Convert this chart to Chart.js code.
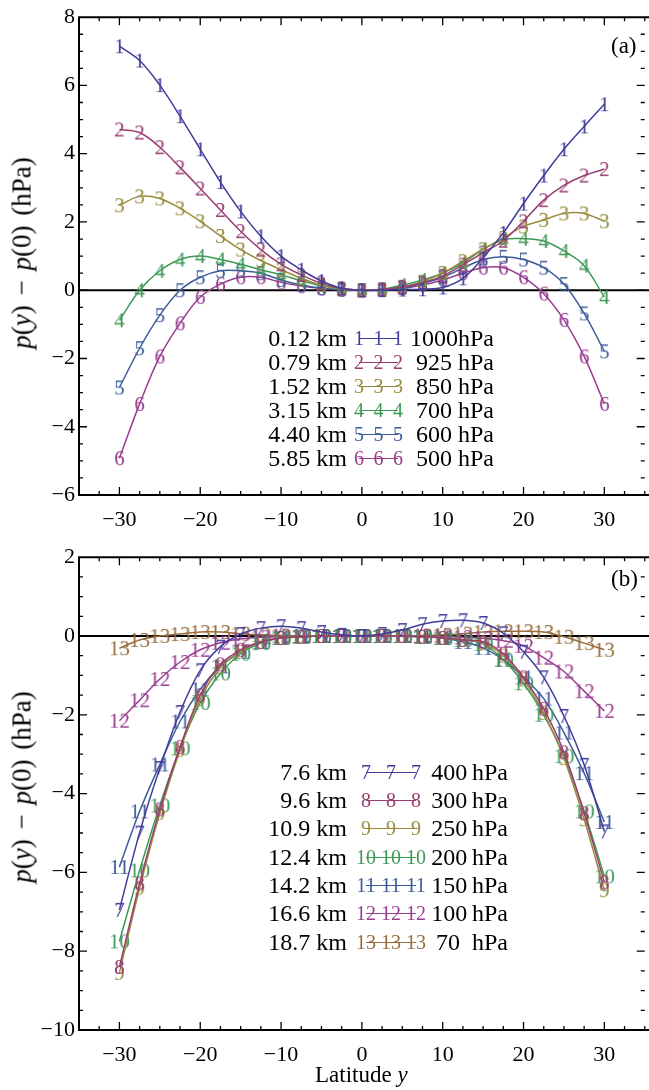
<!DOCTYPE html>
<html>
<head>
<meta charset="UTF-8">
<title>p(y) - p(0)</title>
<script src="https://cdn.jsdelivr.net/npm/chart.js"></script>
<style>
  body { margin: 0; background: #fff; overflow: hidden; font-family: "Liberation Serif", "Times New Roman", serif; }
  #wrap { position: relative; width: 649px; height: 1090px; }
  canvas { position: absolute; left: 0; }
  #c1 { top: 0; }
  #c2 { top: 540px; }
  .txt { position: absolute; color: #000; white-space: nowrap; line-height: 1; }
  .ytitle { font-size: 27px; transform: translate(-50%, -50%) rotate(-90deg); word-spacing: 3px; }
  .panel { font-size: 23px; }
  .leg { font-size: 24px; transform: translateY(-50%); }
  .legR { transform: translate(-100%, -50%); }
  .sample { position: absolute; height: 24px; transform: translateY(-50%); }
  .sample .ln { position: absolute; top: 12px; height: 0; border-top: 1.6px solid; }
  .sample .d { position: absolute; top: 12px; font-size: 20px; transform: translate(-50%, -52%); line-height: 1; }
</style>
</head>
<body>
<div id="wrap">
  <canvas id="c1" width="649" height="540"></canvas>
  <canvas id="c2" width="649" height="550"></canvas>
</div>
<script>
// latitude of each sample
const lat = [-30, -27.5, -25, -22.5, -20, -17.5, -15, -12.5, -10, -7.5, -5, -2.5, 0,
             2.5, 5, 7.5, 10, 12.5, 15, 17.5, 20, 22.5, 25, 27.5, 30];

// panel (a): p(y) - p(0), hPa
const p1000 = [7.15, 6.73, 6.01, 5.1, 4.13, 3.17, 2.31, 1.58, 1.0, 0.6, 0.27, 0.06, 0, 0, 0.02, 0.03, 0.08, 0.35, 0.95, 1.68, 2.54, 3.36, 4.13, 4.8, 5.45];
const p925 = [4.71, 4.62, 4.19, 3.6, 2.98, 2.35, 1.73, 1.19, 0.76, 0.45, 0.2, 0.05, 0, 0.02, 0.1, 0.22, 0.42, 0.75, 1.1, 1.45, 2.02, 2.64, 3.07, 3.36, 3.55];
const p850 = [2.49, 2.75, 2.69, 2.4, 2.02, 1.59, 1.19, 0.87, 0.6, 0.35, 0.15, 0.04, 0, 0.02, 0.1, 0.25, 0.5, 0.85, 1.2, 1.53, 1.87, 2.06, 2.25, 2.25, 2.02];
const p700 = [-0.88, 0.0, 0.57, 0.9, 1.0, 0.9, 0.76, 0.6, 0.45, 0.28, 0.13, 0.04, 0, 0.03, 0.15, 0.3, 0.5, 0.8, 1.2, 1.48, 1.51, 1.44, 1.15, 0.72, -0.2];
const p600 = [-2.85, -1.7, -0.73, 0.0, 0.38, 0.57, 0.57, 0.5, 0.3, 0.15, 0.06, 0.02, 0, 0.02, 0.07, 0.2, 0.38, 0.65, 0.9, 0.98, 0.9, 0.66, 0.18, -0.68, -1.79];
const p500 = [-4.92, -3.33, -1.94, -0.97, -0.2, 0.18, 0.38, 0.38, 0.23, 0.12, 0.05, 0.01, 0, 0.01, 0.05, 0.15, 0.3, 0.5, 0.66, 0.66, 0.38, -0.1, -0.87, -1.94, -3.33];

// panel (b)
const p400 = [-6.95, -4.99, -3.35, -1.93, -0.87, -0.27, 0.05, 0.2, 0.25, 0.2, 0.1, 0.03, 0, 0.05, 0.15, 0.3, 0.38, 0.4, 0.33, 0.07, -0.4, -1.05, -2.03, -3.27, -4.96];
const p300 = [-8.4, -6.28, -4.4, -2.82, -1.5, -0.72, -0.35, -0.15, -0.05, -0.02, 0, 0, 0, 0, 0, -0.02, -0.05, -0.1, -0.15, -0.45, -1.05, -1.85, -2.95, -4.5, -6.25];
const p250 = [-8.55, -6.4, -4.5, -2.9, -1.6, -0.8, -0.4, -0.15, -0.05, -0.01, 0, 0, 0, 0, 0, -0.02, -0.05, -0.1, -0.18, -0.5, -1.1, -1.95, -3.1, -4.65, -6.45];
const p200 = [-7.75, -5.95, -4.3, -2.85, -1.7, -0.95, -0.45, -0.18, -0.05, -0.01, 0, 0, 0, 0, 0, -0.02, -0.05, -0.1, -0.2, -0.6, -1.2, -2.0, -3.05, -4.45, -6.1];
const p150 = [-5.86, -4.45, -3.26, -2.17, -1.35, -0.77, -0.4, -0.15, -0.05, -0.02, 0, 0, 0, 0, 0, -0.02, -0.05, -0.15, -0.3, -0.6, -1.05, -1.59, -2.45, -3.48, -4.72];
const p100 = [-2.15, -1.63, -1.09, -0.66, -0.35, -0.17, -0.07, -0.03, -0.01, 0, 0, 0, 0, 0, 0, 0, -0.01, -0.03, -0.06, -0.12, -0.25, -0.55, -0.9, -1.4, -1.9];
const p70 = [-0.31, -0.1, 0.0, 0.05, 0.1, 0.1, 0.06, 0.03, 0.01, 0, 0, 0, 0, 0, 0, 0.01, 0.03, 0.06, 0.1, 0.12, 0.12, 0.1, -0.02, -0.18, -0.35];

// legend text
const heightsA = ['0.12 km', '0.79 km', '1.52 km', '3.15 km', '4.40 km', '5.85 km'];
const levelsA = ['1000hPa', '925 hPa', '850 hPa', '700 hPa', '600 hPa', '500 hPa'];
const heightsB = ['7.6 km', '9.6 km', '10.9 km', '12.4 km', '14.2 km', '16.6 km', '18.7 km'];
const levelsB = ['400\u2009hPa', '300\u2009hPa', '250\u2009hPa', '200\u2009hPa', '150\u2009hPa', '100\u2009hPa', '70\u2002hPa'];

const seriesA = [p1000, p925, p850, p700, p600, p500];
const seriesB = [p400, p300, p250, p200, p150, p100, p70];
const marksA = ['1', '2', '3', '4', '5', '6'];
const marksB = ['7', '8', '9', '10', '11', '12', '13'];

// mathematica style hues
const colorsA = ['#3f3d99', '#993d71', '#998b3d', '#3d9956', '#3d5a99', '#993d90'];
const colorsB = ['#3f3d99', '#993d71', '#998b3d', '#3d9956', '#3d5a99', '#993d90', '#996d3d'];

const MINUS = '\u2212';
const SERIF = '"Liberation Serif", "Times New Roman", serif';

function glyph(text, color) {
  const c = document.createElement('canvas');
  let ctx = c.getContext('2d');
  const font = '21px ' + SERIF;
  ctx.font = font;
  const w = Math.ceil(ctx.measureText(text).width) + 2;
  c.width = w; c.height = 24;
  ctx = c.getContext('2d');
  ctx.font = font;
  ctx.fillStyle = color;
  ctx.textAlign = 'center';
  ctx.textBaseline = 'middle';
  ctx.fillText(text, w / 2, 13);
  return c;
}

function makeDatasets(series, marks, colors) {
  return series.map((s, i) => ({
    data: lat.map((x, j) => ({ x: x, y: s[j] })),
    borderColor: colors[i],
    borderWidth: 1.5,
    tension: 0.35,
    pointStyle: glyph(marks[i], colors[i]),
    pointRadius: 8,
    fill: false
  }));
}

// frame with inward ticks, like the original
const frame = {
  id: 'frame',
  afterDatasetsDraw(chart) {
    const { ctx, chartArea: a, scales: { x, y } } = chart;
    ctx.save();
    ctx.strokeStyle = '#000';
    ctx.lineWidth = 2;
    ctx.beginPath();
    ctx.moveTo(a.left, a.top); ctx.lineTo(chart.width, a.top);
    ctx.moveTo(a.left, a.top - 1); ctx.lineTo(a.left, a.bottom + 1);
    ctx.moveTo(a.left, a.bottom); ctx.lineTo(chart.width, a.bottom);
    ctx.stroke();
    ctx.lineWidth = 1.3;
    ctx.beginPath();
    const xr = x.getPixelForValue(35);
    for (let v = -35; v <= 35.01; v += 2.5) {
      const px = x.getPixelForValue(v);
      if (px <= a.left + 1 || px > chart.width) continue;
      const len = (Math.abs(v % 10) < 1e-6) ? 8 : 4;
      ctx.moveTo(px, a.bottom); ctx.lineTo(px, a.bottom - len);
      ctx.moveTo(px, a.top); ctx.lineTo(px, a.top + len);
    }
    for (let v = y.min; v <= y.max + 1e-6; v += 0.5) {
      const py = y.getPixelForValue(v);
      if (py <= a.top + 1 || py >= a.bottom - 1) continue;
      const len = (Math.abs(v % 2) < 1e-6) ? 8 : 4;
      ctx.moveTo(a.left, py); ctx.lineTo(a.left + len, py);
      ctx.moveTo(xr, py); ctx.lineTo(xr - len, py);
    }
    ctx.stroke();
    ctx.restore();
  },
  beforeDatasetsDraw(chart) {
    const { ctx, chartArea: a, scales: { y } } = chart;
    const py = y.getPixelForValue(0);
    ctx.save();
    ctx.strokeStyle = '#000';
    ctx.lineWidth = 1.8;
    ctx.beginPath();
    ctx.moveTo(a.left, py); ctx.lineTo(chart.width, py);
    ctx.stroke();
    ctx.restore();
  }
};

function makeChart(id, datasets, ymin, ymax, padTop, xHeight) {
  return new Chart(document.getElementById(id), {
    type: 'line',
    data: { datasets: datasets },
    plugins: [frame],
    options: {
      responsive: false,
      animation: false,
      events: [],
      layout: { padding: { top: padTop, left: 0, right: 0, bottom: 0 } },
      plugins: { legend: { display: false }, tooltip: { enabled: false } },
      scales: {
        x: {
          type: 'linear',
          min: -35, max: 34.35,
          grid: { display: false, drawTicks: false },
          border: { display: false },
          afterFit: s => { s.height = xHeight; },
          ticks: {
            stepSize: 10, includeBounds: false, padding: 12, color: '#000',
            font: { family: SERIF, size: 22 },
            maxRotation: 0,
            callback: v => (v < 0 ? MINUS + Math.abs(v) : String(v))
          }
        },
        y: {
          min: ymin, max: ymax,
          grid: { display: false, drawTicks: false },
          border: { display: false },
          afterFit: s => { s.width = 79; },
          ticks: {
            stepSize: 2, padding: 4, color: '#000',
            font: { family: SERIF, size: 22 },
            callback: v => (v < 0 ? MINUS + Math.abs(v) : String(v))
          }
        }
      }
    }
  });
}

makeChart('c1', makeDatasets(seriesA, marksA, colorsA), -6, 8, 11, 45);
makeChart('c2', makeDatasets(seriesB, marksB, colorsB), -10, 2, 5, 60);

// text overlays
const wrap = document.getElementById('wrap');
function addText(html, cls, left, top) {
  const d = document.createElement('div');
  d.className = 'txt ' + cls;
  d.innerHTML = html;
  d.style.left = left + 'px';
  d.style.top = top + 'px';
  wrap.appendChild(d);
  return d;
}
const ylabel = '<i>p</i>(<i>y</i>) \u2212 <i>p</i>(0) (hPa)';
addText(ylabel, 'ytitle', 22, 253);
addText(ylabel, 'ytitle', 22, 787);
addText('(a)', 'panel', 611, 34);
addText('(b)', 'panel', 611, 567);
addText('Latitude <i>y</i>', 'panel', 315, 1063);

function addLegend(heights, levels, marks, colors, rows, kmRight, c0, c1, pRight) {
  heights.forEach((h, i) => {
    const yc = rows[i];
    addText(h, 'leg legR', kmRight, yc);
    addText(levels[i], 'leg legR', pRight, yc);
    const s = document.createElement('div');
    s.className = 'sample';
    s.style.left = '0px';
    s.style.top = yc + 'px';
    s.style.width = '649px';
    const ln = document.createElement('div');
    ln.className = 'ln';
    ln.style.left = c0 + 'px';
    ln.style.width = (c1 - c0) + 'px';
    ln.style.borderColor = colors[i];
    s.appendChild(ln);
    [c0, (c0 + c1) / 2, c1].forEach(cx => {
      const d = document.createElement('span');
      d.className = 'd';
      d.textContent = marks[i];
      d.style.left = cx + 'px';
      d.style.color = colors[i];
      s.appendChild(d);
    });
    wrap.appendChild(s);
  });
}
addLegend(heightsA, levelsA, marksA, colorsA, [338, 362, 386, 410, 434, 458], 347, 359, 398, 494);
addLegend(heightsB, levelsB, marksB, colorsB, [772, 800, 828, 857, 885, 913, 942], 347, 366, 416, 508);
</script>
</body>
</html>
